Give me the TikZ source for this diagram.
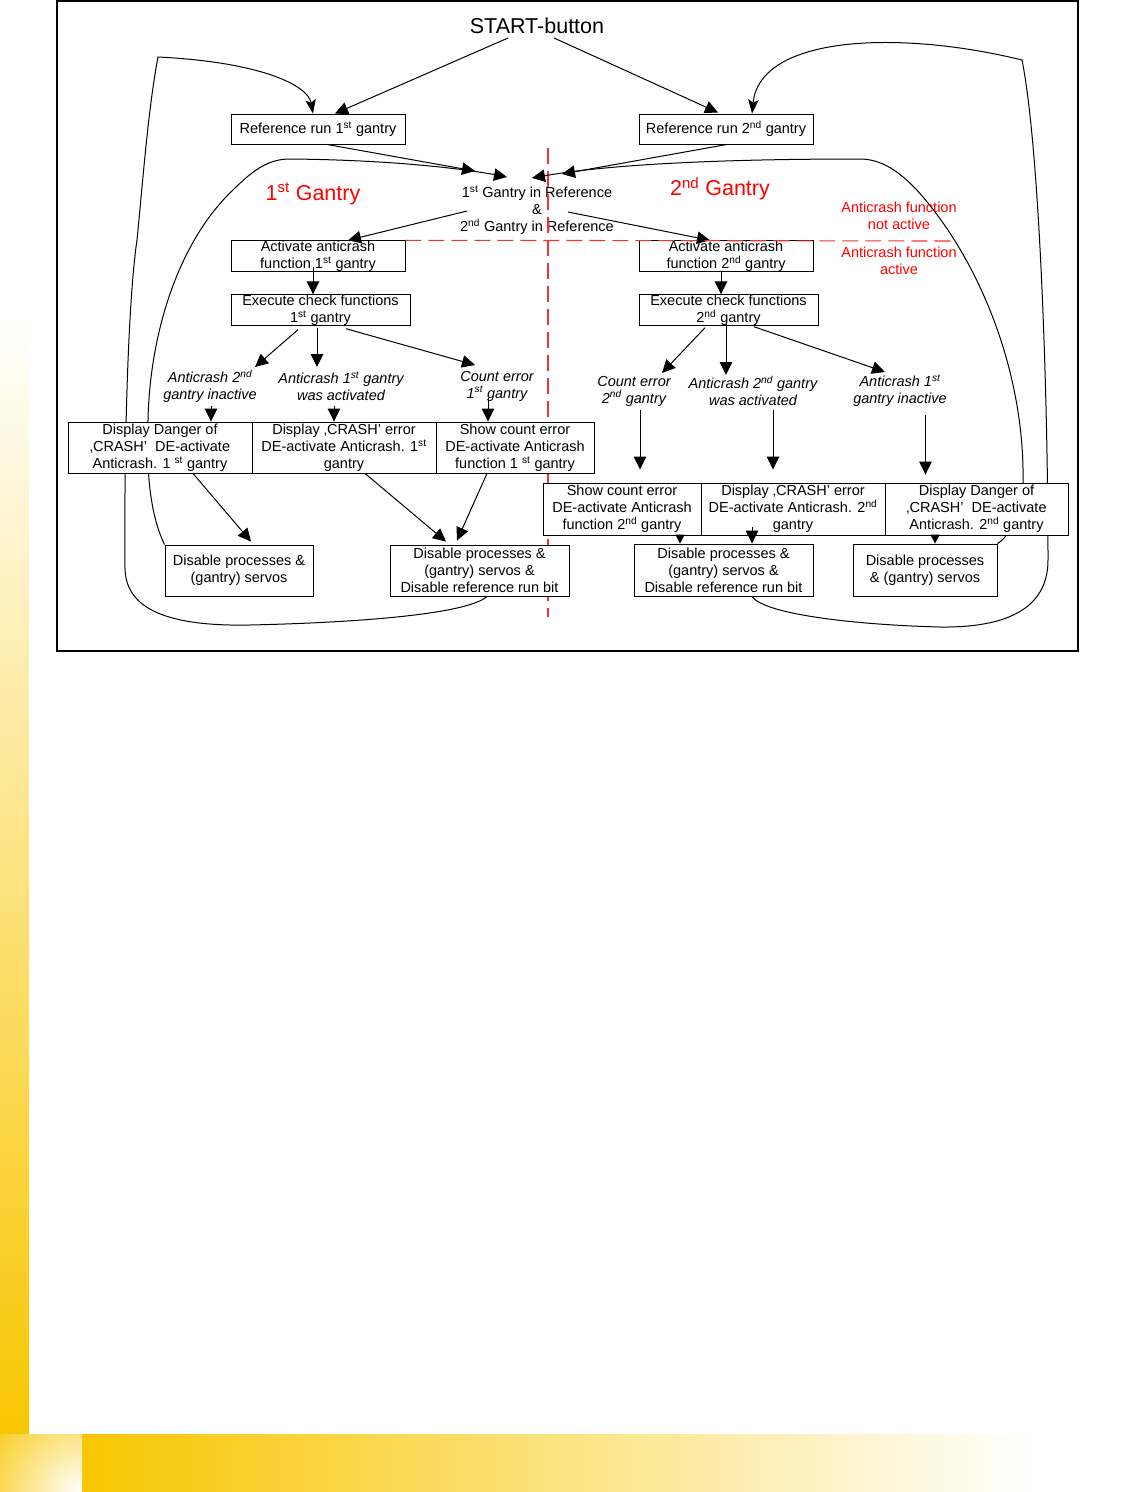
\documentclass[tikz,border=0pt]{standalone}
\usepackage{fontspec}
\setmainfont{Liberation Sans}
\usetikzlibrary{arrows.meta,calc}
\definecolor{ycol}{RGB}{248,198,0}
\definecolor{rcol}{RGB}{255,0,0}
\definecolor{dcol}{RGB}{240,50,50}
\newcommand{\myfs}{\fontsize{14.5}{17}\selectfont}
\newcommand{\bigfs}{\fontsize{21.5}{24}\selectfont}
\newcommand{\sups}[1]{\textsuperscript{#1}}
\begin{document}
\begin{tikzpicture}[x=1pt,y=-1pt,
  box/.style={draw=black,line width=0.9pt,fill=white,inner sep=0pt,align=center,font=\myfs},
  lbl/.style={inner sep=0pt,align=center,font=\myfs\itshape},
  redtxt/.style={inner sep=0pt,align=center,text=rcol},
  arr/.style={line width=1pt,-{Triangle[length=13pt,width=12.5pt]}},
  sarr/.style={line width=1pt,-{Triangle[length=9pt,width=9pt]}},
  carr/.style={line width=1pt,-{Stealth[length=14pt,width=10.5pt,inset=3pt]}},
  reddash/.style={dcol,line width=1.1pt,dash pattern=on 16pt off 7pt}]
\useasboundingbox (0,0) rectangle (1135,1492);
% background decoration
\shade[top color=white,bottom color=ycol] (0,315) rectangle (29,1434);
\shade[left color=ycol,right color=white] (82,1434) rectangle (1035,1492);
\begin{scope}
\clip (0,1434) rectangle (82,1492);
\shade[inner color=white,outer color=ycol] (82,1492) circle (120);
\end{scope}
% frame
\draw[line width=1.2pt] (57,1) rectangle (1078,651);
% texts
\node[inner sep=0pt,font=\bigfs] (start) at (537,26) {START-button};
\node[inner sep=0pt,align=center,font=\myfs] (inref) at (537,210) {1\sups{st} Gantry in Reference\\\&\\2\sups{nd} Gantry in Reference};
% vertical red dashed line
\draw[reddash] (548,148) -- (548,617);
% boxes
\node[box,minimum width=174pt,minimum height=30pt] (ref1) at (318,129) {Reference run 1\sups{st} gantry};
\node[box,minimum width=174pt,minimum height=30pt] (ref2) at (726,129) {Reference run 2\sups{nd} gantry};
\node[box,minimum width=174pt,minimum height=30pt] (act1) at (318,256) {Activate anticrash\\function 1\sups{st} gantry};
\node[box,minimum width=174pt,minimum height=30pt] (act2) at (726,256) {Activate anticrash\\function 2\sups{nd} gantry};
\node[box,minimum width=179pt,minimum height=30pt] (exec1) at (320.5,310) {Execute check functions\\1\sups{st} gantry};
\node[box,minimum width=179pt,minimum height=30pt] (exec2) at (728.5,310) {Execute check functions\\2\sups{nd} gantry};
\node[box,minimum width=148pt,minimum height=51pt] (d1) at (239,570.5) {Disable processes \&\\(gantry) servos};
\node[box,minimum width=179pt,minimum height=51pt] (d2) at (479.5,570.5) {Disable processes \&\\(gantry) servos \&\\Disable reference run bit};
\node[box,minimum width=179pt,minimum height=52pt] (d3) at (723.5,570) {Disable processes \&\\(gantry) servos \&\\Disable reference run bit};
\node[box,minimum width=144pt,minimum height=52pt] (d4) at (925,570) {Disable processes\\\& (gantry) servos};
% curves (behind the row boxes)
\draw[carr] ($(d2.south)+(7.5,0)$) .. controls (470,612) and (380,622) .. (250,625)
  .. controls (150,627) and (124,600) .. (125,565)
  .. controls (124,450) and (128,300) .. (137,240)
  .. controls (143,180) and (148,110) .. (158,57)
  .. controls (260,62) and (308,85) .. ($(ref1.north)+(-5,0)$);
\draw[arr] (d1.north west) .. controls (150,515) and (146,470) .. (148,420)
  .. controls (150,330) and (180,240) .. (233,190)
  .. controls (255,168) and (270,159) .. (290,159)
  .. controls (400,160) and (470,170) .. ($(inref.center)+(-30,-33)$);
\draw[carr] ($(d3.south)+(28.5,0)$) .. controls (765,615) and (860,625) .. (940,627)
  .. controls (1020,628) and (1048,600) .. (1048,560)
  .. controls (1048,400) and (1040,150) .. (1022,60)
  .. controls (900,30) and (760,35) .. ($(ref2.north)+(26,0)$);
\draw[arr] (d4.north east) .. controls (1006,539) and (1020,520) .. (1023,483)
  .. controls (1025,380) and (985,270) .. (923,197)
  .. controls (900,170) and (880,159) .. (860,159)
  .. controls (700,159) and (600,166) .. ($(inref.center)+(-5,-32)$);
% row boxes
\node[box,minimum width=184pt,minimum height=51pt] (b1) at (160,447.5) {Display Danger of\\‚CRASH’\ \ DE-activate\\Anticrash. 1 \sups{st} gantry};
\node[box,minimum width=184pt,minimum height=51pt] (b2) at (344,447.5) {Display ‚CRASH’ error\\DE-activate Anticrash. 1\sups{st}\\gantry};
\node[box,minimum width=158pt,minimum height=51pt] (b3) at (515,447.5) {Show count error\\DE-activate Anticrash\\function 1 \sups{st} gantry};
\node[box,minimum width=158pt,minimum height=52pt] (c1) at (622,509) {Show count error\\DE-activate Anticrash\\function 2\sups{nd} gantry};
\node[box,minimum width=184pt,minimum height=52pt] (c2) at (793,509) {Display ‚CRASH’ error\\DE-activate Anticrash. 2\sups{nd}\\gantry};
\node[box,minimum width=183pt,minimum height=52pt] (c3) at (976.5,509) {Display Danger of\\‚CRASH’\ \ DE-activate\\Anticrash. 2\sups{nd} gantry};
% labels
\node[lbl] (la) at (210,386) {Anticrash 2\sups{nd}\\gantry inactive};
\node[lbl] (lb) at (341,386) {Anticrash 1\sups{st} gantry\\was activated};
\node[lbl] (lc) at (497,386) {Count error\\1\sups{st} gantry};
\node[lbl] (ra) at (634,391) {Count error\\2\sups{nd} gantry};
\node[lbl] (rb) at (753,391) {Anticrash 2\sups{nd} gantry\\was activated};
\node[lbl] (rc) at (900,391) {Anticrash 1\sups{st}\\gantry inactive};
% red titles
\node[redtxt,font=\bigfs] (g1) at (313,194) {1\sups{st} Gantry};
\node[redtxt,font=\bigfs] (g2) at (720,189) {2\sups{nd} Gantry};
\node[redtxt,font=\myfs] (nact) at (899,216) {Anticrash function\\not active};
\node[redtxt,font=\myfs] (yact) at (899,261) {Anticrash function\\active};
% straight arrows
\draw[arr] ($(start.center)+(-29,12)$) -- ($(ref1.north)+(17,0)$);
\draw[arr] ($(start.center)+(17,12)$) -- ($(ref2.north)+(-8,-1)$);
\draw[arr] ($(ref1.south)+(9,0)$) -- ($(inref.center)+(-62,-39)$);
\draw[arr] ($(ref2.south)+(1,0)$) -- ($(inref.center)+(25,-36)$);
\draw[arr] ($(inref.center)+(-70,1)$) -- ($(act1.north)+(30,0)$);
\draw[arr] ($(inref.center)+(31,2)$) -- ($(act2.north)+(-16,0)$);
\draw[arr] ($(act1.south)+(-5,-5)$) -- ($(exec1.north)+(-7.5,0)$);
\draw[arr] ($(act2.south)+(-5,0)$) -- ($(exec2.north)+(-7.5,0)$);
\draw[arr] ($(exec1.south)+(-22.5,4)$) -- ($(la.center)+(45,-19)$);
\draw[arr] ($(exec1.south)+(-3.5,2)$) -- ($(lb.center)+(-24,-19)$);
\draw[arr] ($(exec1.south)+(25.5,3)$) -- ($(lc.center)+(-22,-21)$);
\draw[arr] ($(la.center)+(1,20)$) -- ($(b1.north)+(51,0)$);
\draw[arr] ($(lb.center)+(-7,20)$) -- ($(b2.north)+(-10,0)$);
\draw[arr] ($(lc.center)+(-9,12)$) -- ($(b3.north)+(-27,0)$);
\draw[arr] ($(exec2.south)+(-23.5,2)$) -- ($(ra.center)+(28,-18)$);
\draw[arr] ($(exec2.south)+(-2.5,-2)$) -- ($(rb.center)+(-27,-16)$);
\draw[arr] ($(exec2.south)+(25.5,1)$) -- ($(rc.center)+(-15,-19)$);
\draw[arr] ($(ra.center)+(6,19)$) -- ($(c1.north)+(18,-13)$);
\draw[arr] ($(rb.center)+(20,19)$) -- ($(c2.north)+(-20,-13)$);
\draw[arr] ($(rc.center)+(25.5,24)$) -- ($(c3.north)+(-51,-8)$);
\draw[arr] ($(b1.south)+(33,0)$) -- ($(d1.north)+(12,-3)$);
\draw[arr] ($(b2.south)+(21,0)$) -- ($(d2.north)+(-33.5,-3)$);
\draw[arr] ($(b3.south)+(-28,0)$) -- ($(d2.north)+(-22.5,-4)$);
\draw[sarr] ($(c1.south)+(58,0)$) -- ($(d3.north)+(-43.5,0)$);
\draw[arr] ($(c2.south)+(-41,-8)$) -- ($(d3.north)+(28.5,0)$);
\draw[sarr] ($(c3.south)+(-41.5,0)$) -- ($(d4.north)+(10,0)$);
% horizontal red dashed line
\draw[reddash] (act1.north east) -- (957,241);
\end{tikzpicture}
\end{document}
